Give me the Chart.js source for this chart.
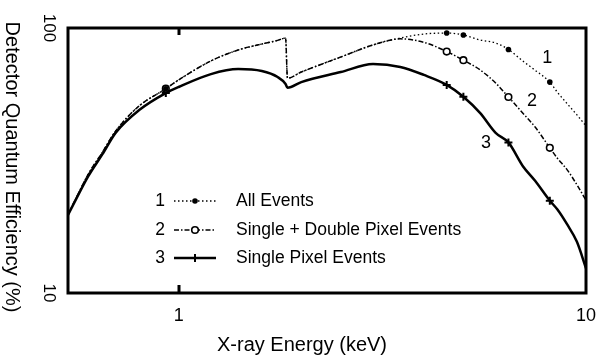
<!DOCTYPE html>
<html><head><meta charset="utf-8">
<script src="https://cdn.jsdelivr.net/npm/chart.js@4.4.0/dist/chart.umd.min.js"></script>
<style>html,body{margin:0;padding:0;background:#fff;}</style>
</head><body>
<canvas id="c" width="596" height="356"></canvas>
<script>
// ---- data ----
const energies      = [0.535, 0.56, 0.6, 0.65, 0.7, 0.8, 0.93, 1.0, 1.2, 1.4, 1.6, 1.75, 1.83, 1.85, 2.0, 2.5, 3.0, 3.5, 4.0, 4.55, 5.0, 5.5, 6.0, 6.45, 7.0, 7.5, 8.15, 8.5, 9.0, 9.5, 10];
const allEvents     = [19.7, 22.8, 28.1, 34.0, 40.8, 50.8, 59.0, 63.7, 75.1, 82.6, 87.0, 89.8, 91.6, 64.7, 68.2, 77.7, 86.3, 91.6, 94.9, 95.7, 94.1, 90.1, 87.8, 83.0, 75.0, 69.3, 62.5, 57.3, 51.7, 47.0, 42.7];
const singleDouble  = [19.7, 22.8, 28.1, 34.0, 40.8, 50.8, 59.0, 63.7, 75.1, 82.6, 87.0, 89.8, 91.6, 64.7, 68.2, 77.7, 86.3, 91.0, 88.3, 81.5, 75.6, 69.4, 62.0, 54.9, 47.7, 42.3, 35.3, 32.3, 29.1, 25.6, 22.4];
const singlePixel   = [19.7, 22.6, 27.6, 33.4, 40.2, 49.0, 56.8, 59.9, 67.0, 70.0, 68.8, 65.3, 61.5, 59.5, 62.5, 68.2, 73.1, 71.3, 66.5, 61.0, 55.0, 47.7, 40.2, 37.0, 30.1, 26.5, 22.3, 20.7, 18.1, 15.6, 12.4];
const markerEnergies = [0.93, 4.55, 5.0, 6.45, 8.15];
const seriesNumbers = ['1', '2', '3'];
const seriesLabels  = ['All Events', 'Single + Double Pixel Events', 'Single Pixel Events'];
const curveLabelX   = [8.03, 7.37, 5.68];
const curveLabelY   = [77.0, 53.0, 36.8];
const xTicks = [1, 10];
const yTicks = [10, 100];
const xTitle = 'X-ray Energy (keV)';
const yTitle = 'Detector Quantum Efficiency (%)';

const FONT = "'Liberation Sans', Arial, Helvetica, sans-serif";
const toPts = arr => energies.map((e, i) => ({x: e, y: arr[i]}));
const markR = r => (ctx => markerEnergies.includes(energies[ctx.dataIndex]) ? r : 0);

const datasets = [
  {label: seriesLabels[0], data: toPts(allEvents), showLine: true, borderColor: '#000', borderWidth: 1.3,
   borderDash: [1.5, 2.5], pointStyle: 'circle', pointRadius: markR(2.8), pointBackgroundColor: '#000',
   pointBorderColor: '#000', pointBorderWidth: 0, cubicInterpolationMode: 'monotone'},
  {label: seriesLabels[1], data: toPts(singleDouble), showLine: true, borderColor: '#000', borderWidth: 1.5,
   borderDash: [5, 2, 1.5, 2], pointStyle: 'circle', pointRadius: markR(3.3), pointBackgroundColor: '#fff',
   pointBorderColor: '#000', pointBorderWidth: 1.6, cubicInterpolationMode: 'monotone'},
  {label: seriesLabels[2], data: toPts(singlePixel), showLine: true, borderColor: '#000', borderWidth: 2.5,
   pointStyle: 'cross', pointRadius: markR(4), pointBackgroundColor: '#000',
   pointBorderColor: '#000', pointBorderWidth: 2, cubicInterpolationMode: 'monotone'}
];

const decor = {
  id: 'decor',
  afterDatasetsDraw(chart) {
    const {ctx, chartArea: a, scales: {x, y}} = chart;
    ctx.save();
    ctx.strokeStyle = '#000';
    ctx.lineWidth = 3;
    ctx.strokeRect(a.left, a.top, a.right - a.left, a.bottom - a.top);
    xTicks.forEach(v => {
      const px = Math.round(x.getPixelForValue(v));
      if (px > a.left + 2 && px < a.right - 2) {
        ctx.beginPath();
        ctx.moveTo(px, a.bottom); ctx.lineTo(px, a.bottom - 8);
        ctx.moveTo(px, a.top); ctx.lineTo(px, a.top + 7);
        ctx.stroke();
      }
    });
    ctx.fillStyle = '#000';
    ctx.textAlign = 'center';
    ctx.textBaseline = 'middle';
    // y tick labels, rotated clockwise
    ctx.font = '17px ' + FONT;
    yTicks.forEach(v => {
      const py = y.getPixelForValue(v);
      ctx.save();
      ctx.translate(49, py);
      ctx.rotate(Math.PI / 2);
      ctx.fillText(String(v), 0, 0);
      ctx.restore();
    });
    // axis titles
    ctx.font = '20px ' + FONT;
    ctx.fillText(xTitle, 302, 345);
    ctx.save();
    ctx.translate(12, 167);
    ctx.rotate(Math.PI / 2);
    ctx.fillText(yTitle, 0, 0);
    ctx.restore();
    // curve numbers
    ctx.font = '18px ' + FONT;
    seriesNumbers.forEach((n, i) => {
      ctx.fillText(n, x.getPixelForValue(curveLabelX[i]), y.getPixelForValue(curveLabelY[i]));
    });
    // legend
    const rows = [201, 230, 258];
    const numX = 160, l0 = 174, l1 = 216, textX = 236;
    chart.data.datasets.forEach((ds, i) => {
      const ry = rows[i];
      ctx.fillStyle = '#000';
      ctx.font = '17.5px ' + FONT;
      ctx.textAlign = 'center';
      ctx.fillText(seriesNumbers[i], numX, ry);
      ctx.beginPath();
      ctx.setLineDash(ds.borderDash || []);
      ctx.lineWidth = ds.borderWidth;
      ctx.moveTo(l0, ry); ctx.lineTo(l1, ry);
      ctx.stroke();
      ctx.setLineDash([]);
      ctx.fillStyle = ds.pointBackgroundColor;
      ctx.strokeStyle = ds.pointBorderColor;
      ctx.lineWidth = ds.pointBorderWidth;
      const r = ds.pointStyle === 'cross' ? 4 : (i === 1 ? 3.3 : 2.8);
      Chart.helpers.drawPoint(ctx, {pointStyle: ds.pointStyle, radius: r, rotation: 0, borderWidth: ds.pointBorderWidth}, (l0 + l1) / 2, ry);
      ctx.fillStyle = '#000';
      ctx.strokeStyle = '#000';
      ctx.textAlign = 'left';
      ctx.font = '17.5px ' + FONT;
      ctx.fillText(ds.label, textX, ry);
    });
    ctx.restore();
  }
};

new Chart(document.getElementById('c'), {
  type: 'scatter',
  data: {datasets},
  plugins: [decor],
  options: {
    responsive: false, animation: false, devicePixelRatio: 1,
    layout: {padding: {top: 28, right: 10, left: 0, bottom: 0}},
    plugins: {legend: {display: false}, tooltip: {enabled: false}},
    scales: {
      x: {
        type: 'logarithmic', min: 0.535, max: 10, position: 'bottom',
        afterBuildTicks: s => { s.ticks = xTicks.map(v => ({value: v})); },
        afterFit: s => { s.height = 63; s.paddingLeft = 0; s.paddingRight = 0; },
        grid: {display: false, drawTicks: false}, border: {display: false},
        ticks: {font: {family: FONT, size: 18}, color: '#000', padding: 12, autoSkip: false, maxRotation: 0,
                callback: v => String(v)},
        title: {display: false, text: xTitle}
      },
      y: {
        type: 'logarithmic', min: 10, max: 100, position: 'left',
        afterBuildTicks: s => { s.ticks = yTicks.map(v => ({value: v})); },
        afterFit: s => { s.width = 68; s.paddingTop = 0; s.paddingBottom = 0; },
        grid: {display: false, drawTicks: false}, border: {display: false},
        ticks: {display: false},
        title: {display: false, text: yTitle}
      }
    }
  }
});
</script>
</body></html>
